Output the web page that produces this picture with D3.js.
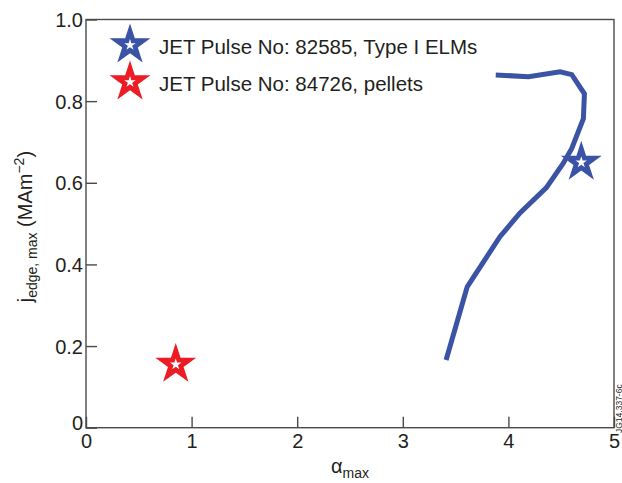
<!DOCTYPE html>
<html>
<head>
<meta charset="utf-8">
<script src="https://cdn.jsdelivr.net/npm/d3@7"></script>
<style>
  html, body { margin: 0; padding: 0; background: #fff; }
  svg { display: block; font-family: "Liberation Sans", Arial, sans-serif; }
</style>
</head>
<body>
<svg id="chart" width="622" height="483"></svg>
<script>
// Pulse 82585 (Type I ELMs): trajectory of edge current vs. alpha
const elmAlpha = [3.41, 3.61, 3.92, 4.11, 4.36, 4.52, 4.60, 4.71, 4.72, 4.60, 4.49, 4.19, 3.88];
const elmJedge = [0.166, 0.345, 0.468, 0.526, 0.588, 0.648, 0.684, 0.757, 0.818, 0.865, 0.872, 0.860, 0.864];

// Marked operating points
const pointNames = ["JET Pulse No: 82585, Type I ELMs", "JET Pulse No: 84726, pellets"];
const pointAlpha = [4.69, 0.85];
const pointJedge = [0.650, 0.155];
const pointColors = ["#3a53a4", "#ec1c24"];

const xTicks = [0, 1, 2, 3, 4, 5];
const yTicks = [0, 0.2, 0.4, 0.6, 0.8, 1.0];
const yTickLabels = ["0", "0.2", "0.4", "0.6", "0.8", "1.0"];

const margin = { left: 86, right: 8, top: 19.5, bottom: 55.3 };
const W = 622, H = 483;
const svg = d3.select("#chart");

const x = d3.scaleLinear().domain([0, 5]).range([margin.left, W - margin.right]);
const y = d3.scaleLinear().domain([0, 1]).range([H - margin.bottom, margin.top]);

const axisColor = "#4a4a4a";
const textColor = "#231f20";

// Frame
svg.append("rect")
  .attr("x", x(0)).attr("y", y(1))
  .attr("width", x(5) - x(0)).attr("height", y(0) - y(1))
  .attr("fill", "none").attr("stroke", axisColor).attr("stroke-width", 1.4);

// Bottom axis, ticks pointing inward
const xAxis = d3.axisBottom(x).tickValues(xTicks).tickSizeInner(-11).tickSizeOuter(0)
  .tickPadding(0).tickFormat(d3.format("d"));
const gx = svg.append("g").attr("transform", `translate(0,${y(0)})`).call(xAxis);
gx.select(".domain").remove();
gx.selectAll(".tick line").attr("stroke", axisColor).attr("stroke-width", 1.4);
gx.selectAll(".tick text").attr("y", 20).attr("dy", 0)
  .attr("font-size", 20).attr("fill", textColor).attr("font-family", "Liberation Sans, Arial, sans-serif");

// Left axis, ticks pointing inward
const yAxis = d3.axisLeft(y).tickValues(yTicks).tickSizeInner(-11).tickSizeOuter(0)
  .tickPadding(0).tickFormat((d, i) => yTickLabels[i]);
const gy = svg.append("g").attr("transform", `translate(${x(0)},0)`).call(yAxis);
gy.select(".domain").remove();
gy.selectAll(".tick line").attr("stroke", axisColor).attr("stroke-width", 1.4);
gy.selectAll(".tick text").attr("x", -3).attr("dy", "0.36em")
  .attr("font-size", 20).attr("fill", textColor).attr("font-family", "Liberation Sans, Arial, sans-serif");
gy.selectAll(".tick text").filter(d => d === 0).attr("dy", "0.1em");

// Axis titles
const xt = svg.append("text")
  .attr("x", x(2.5)).attr("y", 473)
  .attr("text-anchor", "middle").attr("fill", textColor);
xt.append("tspan").attr("font-size", 20).text("α");
xt.append("tspan").attr("font-size", 14).attr("dy", 5).text("max");

const yt = svg.append("text")
  .attr("transform", `translate(32,${(y(0) + y(1)) / 2 + 3}) rotate(-90)`)
  .attr("text-anchor", "middle").attr("fill", textColor);
yt.append("tspan").attr("font-size", 20).text("j");
yt.append("tspan").attr("font-size", 14).attr("dy", 5).text("edge, max");
yt.append("tspan").attr("font-size", 20).attr("dy", -5).text(" (MAm");
yt.append("tspan").attr("font-size", 14).attr("dy", -8).text("−2");
yt.append("tspan").attr("font-size", 20).attr("dy", 8).text(")");

// Trajectory line
const line = d3.line().x((d, i) => x(elmAlpha[i])).y((d, i) => y(elmJedge[i]));
svg.append("path")
  .datum(elmAlpha)
  .attr("d", line)
  .attr("fill", "none")
  .attr("stroke", pointColors[0])
  .attr("stroke-width", 5)
  .attr("stroke-linejoin", "miter")
  .attr("stroke-linecap", "butt");

// Star markers with white inner star
const bigStar = d3.symbol().type(d3.symbolStar).size(21.5 * 21.5 / 0.8908)();
const smallStar = d3.symbol().type(d3.symbolStar).size(6 * 6 / 0.8908)();

function drawStar(cx, cy, color) {
  const g = svg.append("g").attr("transform", `translate(${cx},${cy})`);
  g.append("path").attr("d", bigStar).attr("fill", color);
  g.append("path").attr("d", smallStar).attr("fill", "#fff");
}

pointAlpha.forEach((a, i) => drawStar(x(a), y(pointJedge[i]), pointColors[i]));

// Legend
const legendY = [45, 82];
pointNames.forEach((name, i) => {
  drawStar(130, legendY[i], pointColors[i]);
  svg.append("text")
    .attr("x", 159).attr("y", legendY[i] + 9)
    .attr("font-size", 20.5).attr("fill", textColor)
    .text(name);
});

// Figure reference code along the right edge
svg.append("text")
  .attr("transform", `translate(621.5,433) rotate(-90)`)
  .attr("font-size", 8.5).attr("fill", textColor)
  .text("JG14.337-6c");
</script>
</body>
</html>
